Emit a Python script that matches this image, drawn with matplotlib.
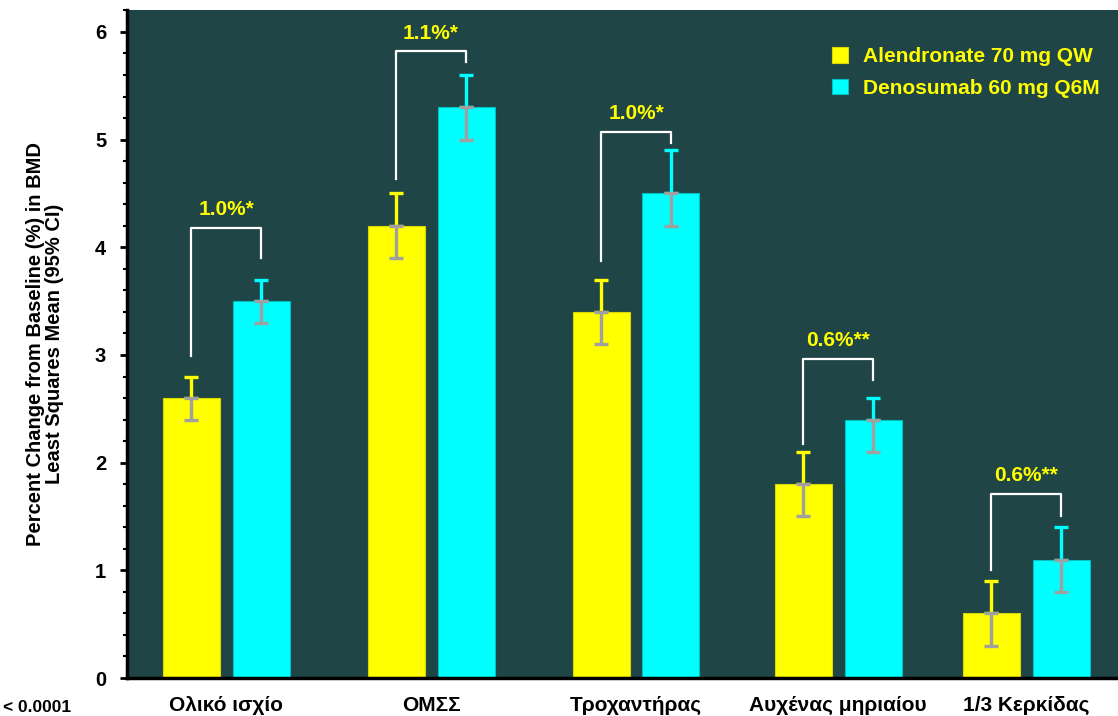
import matplotlib
matplotlib.use('Agg')
import matplotlib.pyplot as plt
from matplotlib.ticker import MultipleLocator
import numpy as np

plt.rcParams['font.family'] = ['Liberation Sans', 'DejaVu Sans']

sites = ['Ολικό ισχίο', 'ΟΜΣΣ', 'Τροχαντήρας', 'Αυχένας μηριαίου', '1/3 Κερκίδας']
alen = [2.6, 4.2, 3.4, 1.8, 0.6]
alen_lo = [2.4, 3.9, 3.1, 1.5, 0.3]
alen_hi = [2.8, 4.5, 3.7, 2.1, 0.9]
deno = [3.5, 5.3, 4.5, 2.4, 1.1]
deno_lo = [3.3, 5.0, 4.2, 2.1, 0.8]
deno_hi = [3.7, 5.6, 4.9, 2.6, 1.4]
diff_labels = ['1.0%*', '1.1%*', '1.0%*', '0.6%**', '0.6%**']

# bracket geometry (y values of left end, top, right end)
br_left = [2.99, 4.63, 3.87, 2.17, 1.00]
br_top = [4.18, 5.82, 5.07, 2.96, 1.71]
br_right = [3.90, 5.72, 4.97, 2.77, 1.50]

# category centres (slightly uneven in the original slide)
xpos = np.array([0, 1.025, 2.05, 3.06, 4.0])

bg = '#1f4547'
yellow = '#ffff00'
cyan = '#00ffff'
grey = '#a0a0a0'

fig = plt.figure(figsize=(11.18, 7.16), dpi=100)
ax = fig.add_axes([127 / 1118, 38 / 716, 991 / 1118, 668 / 716])
ax.set_facecolor(bg)

w = 0.285
off = 0.175

ax.bar(xpos - off, alen, w, color=yellow, edgecolor='#d8d800', linewidth=0.8, zorder=2,
       label='Alendronate 70 mg QW')
ax.bar(xpos + off, deno, w, color=cyan, edgecolor='#00c0c0', linewidth=0.8, zorder=2,
       label='Denosumab 60 mg Q6M')

# error bars: upper part in bar colour, lower part grey
for xs, m, lo, hi, c in [(xpos - off, alen, alen_lo, alen_hi, yellow),
                         (xpos + off, deno, deno_lo, deno_hi, cyan)]:
    m = np.array(m)
    ax.errorbar(xs, m, yerr=[np.zeros(len(m)), np.array(hi) - m], fmt='none',
                ecolor=c, elinewidth=2.4, capsize=5, capthick=2.4, zorder=3)
    ax.errorbar(xs, m, yerr=[m - np.array(lo), np.zeros(len(m))], fmt='none',
                ecolor=grey, elinewidth=2.4, capsize=5, capthick=2.4, zorder=3)

# brackets with difference labels
for i in range(len(sites)):
    ax.plot([xpos[i] - off, xpos[i] - off, xpos[i] + off, xpos[i] + off],
            [br_left[i], br_top[i], br_top[i], br_right[i]],
            color='white', lw=1.6, zorder=3)
    ax.text(xpos[i], br_top[i] + 0.17, diff_labels[i], color=yellow, fontsize=15,
            fontweight='bold', ha='center', va='center')

ax.set_xlim(-0.495, 4.46)
ax.set_ylim(0, 6.204)
ax.yaxis.set_major_locator(MultipleLocator(1))
ax.yaxis.set_minor_locator(MultipleLocator(0.2))
ax.tick_params(axis='y', which='major', length=5, width=2, labelsize=14.5, pad=10)
ax.tick_params(axis='y', which='minor', length=3, width=1.5)
ax.tick_params(axis='x', length=0, labelsize=15, pad=13)
for lab in ax.get_yticklabels():
    lab.set_fontweight('bold')
ax.set_xticks(xpos)
ax.set_xticklabels(sites, fontweight='bold')

for s in ['top', 'right']:
    ax.spines[s].set_visible(False)
ax.spines['left'].set_linewidth(2.5)
ax.spines['bottom'].set_linewidth(2.5)

ax.set_ylabel('Percent Change from Baseline (%) in BMD\nLeast Squares Mean (95% CI)',
              fontsize=14.5, fontweight='bold', labelpad=22, linespacing=1.0)

leg = ax.legend(loc='upper left', frameon=False, fontsize=15, handlelength=0.75,
                handleheight=0.75, handletextpad=0.7, labelspacing=0.6,
                borderaxespad=0, bbox_to_anchor=(697 / 991, 1 - 29 / 668))
for t in leg.get_texts():
    t.set_color(yellow)
    t.set_fontweight('bold')

fig.text(71 / 1118, 1 - 707 / 716, '< 0.0001', fontsize=12.5, fontweight='bold',
         ha='right', va='center')

fig.savefig('out.png', dpi=100, facecolor='white')
